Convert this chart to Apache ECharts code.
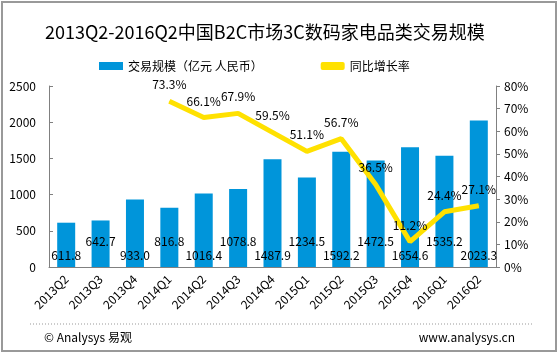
<!DOCTYPE html>
<html>
<head>
<meta charset="utf-8">
<script src="https://cdn.jsdelivr.net/npm/echarts@6/dist/echarts.min.js"></script>
<style>
  html, body { margin: 0; padding: 0; background: #fff; }
  #main { width: 559px; height: 354px; }
</style>
</head>
<body>
<div id="main"></div>
<script>
// 季度
var quarters = ['2013Q2', '2013Q3', '2013Q4', '2014Q1', '2014Q2', '2014Q3', '2014Q4',
  '2015Q1', '2015Q2', '2015Q3', '2015Q4', '2016Q1', '2016Q2'];
// 交易规模（亿元）
var scale = [611.8, 642.7, 933.0, 816.8, 1016.4, 1078.8, 1487.9,
  1234.5, 1592.2, 1472.5, 1654.6, 1535.2, 2023.3];
// 同比增长率 (%)
var growth = [null, null, null, 73.3, 66.1, 67.9, 59.5, 51.1, 56.7, 36.5, 11.2, 24.4, 27.1];

var font = '"Noto Sans CJK SC", "Noto Sans", sans-serif';
var myChart = echarts.init(document.getElementById('main'));

// 柱子标签上下交错
var barData = scale.map(function (v, i) {
  return {
    value: v,
    label: { distance: i % 2 === 0 ? 6 : 20 },
  };
});

var option = {
  animation: false,
  textStyle: { fontFamily: font },
  title: {
    text: '2013Q2-2016Q2中国B2C市场3C数码家电品类交易规模',
    left: 40,
    top: 18,
    textStyle: { fontSize: 18, fontWeight: 'normal', color: '#000', fontFamily: font },
  },
  legend: {
    top: 55,
    left: 94,
    itemGap: 58,
    itemWidth: 24,
    itemHeight: 8,
    textStyle: { fontSize: 12, color: '#000', fontFamily: font },
    data: [
      { name: '交易规模（亿元 人民币）', icon: 'rect' },
      { name: '同比增长率', icon: 'roundRect', itemStyle: { color: '#FFE100' } },
    ],
  },
  grid: { left: 49, right: 63, top: 86, bottom: 87 },
  xAxis: {
    type: 'category',
    data: quarters,
    axisLine: { lineStyle: { color: '#808080' } },
    axisTick: { show: false },
    axisLabel: { rotate: 45, color: '#000', fontSize: 12, margin: 10 },
  },
  yAxis: [
    {
      type: 'value',
      min: 0,
      max: 2500,
      interval: 500,
      position: 'left',
      axisLine: { show: true, lineStyle: { color: '#808080' } },
      axisTick: { show: true, inside: true, length: 4 },
      splitLine: { show: false },
      axisLabel: {
        color: '#000', fontSize: 12, margin: 13,
        formatter: function (v) { return String(v); },
      },
    },
    {
      type: 'value',
      min: 0,
      max: 80,
      interval: 10,
      position: 'right',
      axisLine: { show: true, lineStyle: { color: '#808080' } },
      axisTick: { show: true, length: 4 },
      splitLine: { show: false },
      axisLabel: { color: '#000', fontSize: 12, formatter: '{value}%', margin: 8 },
    },
  ],
  series: [
    {
      name: '交易规模（亿元 人民币）',
      type: 'bar',
      barWidth: 18,
      itemStyle: { color: '#0095DA' },
      label: {
        show: true,
        position: 'insideBottom',
        color: '#000',
        fontSize: 12,
        formatter: function (p) { return p.value.toFixed(1); },
      },
      data: barData,
    },
    {
      name: '同比增长率',
      type: 'line',
      yAxisIndex: 1,
      showSymbol: true,
      symbol: 'circle',
      symbolSize: 1,
      lineStyle: { color: '#FFE100', width: 5 },
      itemStyle: { color: '#FFE100' },
      label: {
        show: true,
        position: 'top',
        distance: 10,
        color: '#000',
        fontSize: 12,
        formatter: function (p) { return p.value.toFixed(1) + '%'; },
      },
      data: growth,
    },
  ],
  graphic: [
    {
      type: 'rect',
      shape: { x: 2, y: 2, width: 554, height: 349 },
      style: { fill: 'none', stroke: '#999', lineWidth: 2 },
    },
    {
      type: 'line',
      shape: { x1: 30, y1: 324, x2: 532, y2: 324 },
      style: { stroke: '#999', lineWidth: 1, lineDash: [1, 2] },
    },
    {
      type: 'text',
      left: 44,
      top: 331,
      style: { text: '© Analysys 易观', fill: '#000', font: '12px ' + font },
    },
    {
      type: 'text',
      right: 44,
      top: 331,
      style: { text: 'www.analysys.cn', fill: '#000', font: '12px ' + font },
    },
  ],
};

myChart.setOption(option);
</script>
</body>
</html>
